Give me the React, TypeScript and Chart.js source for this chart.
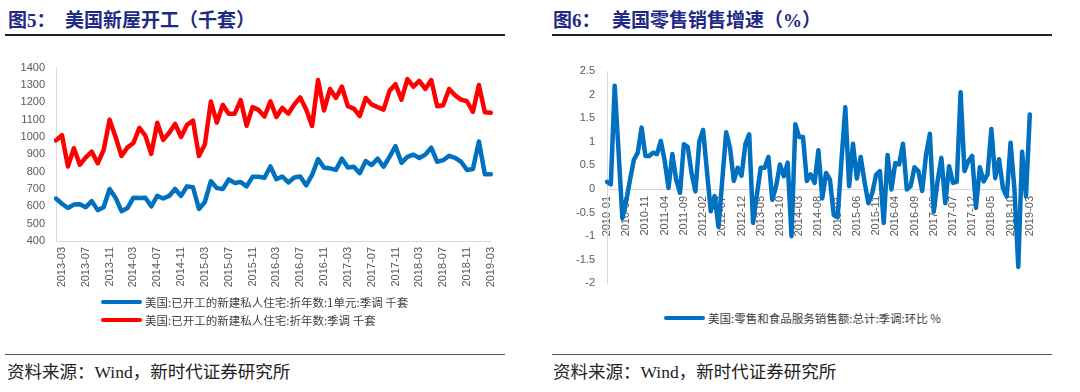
import React, { useEffect, useRef } from 'react';
import { Chart, registerables } from 'chart.js';

Chart.register(...registerables);

// ---------- Figure 5: US housing starts (thousand units) ----------
const startMonths = [
  '2013-02', '2013-03', '2013-04', '2013-05', '2013-06', '2013-07', '2013-08', '2013-09', '2013-10', '2013-11', '2013-12',
  '2014-01', '2014-02', '2014-03', '2014-04', '2014-05', '2014-06', '2014-07', '2014-08', '2014-09', '2014-10', '2014-11', '2014-12',
  '2015-01', '2015-02', '2015-03', '2015-04', '2015-05', '2015-06', '2015-07', '2015-08', '2015-09', '2015-10', '2015-11', '2015-12',
  '2016-01', '2016-02', '2016-03', '2016-04', '2016-05', '2016-06', '2016-07', '2016-08', '2016-09', '2016-10', '2016-11', '2016-12',
  '2017-01', '2017-02', '2017-03', '2017-04', '2017-05', '2017-06', '2017-07', '2017-08', '2017-09', '2017-10', '2017-11', '2017-12',
  '2018-01', '2018-02', '2018-03', '2018-04', '2018-05', '2018-06', '2018-07', '2018-08', '2018-09', '2018-10', '2018-11', '2018-12',
  '2019-01', '2019-02', '2019-03',
];

const startTickLabels = [
  '2013-03', '2013-07', '2013-11', '2014-03', '2014-07', '2014-11', '2015-03', '2015-07', '2015-11', '2016-03',
  '2016-07', '2016-11', '2017-03', '2017-07', '2017-11', '2018-03', '2018-07', '2018-11', '2019-03',
];

const singleFamilyStarts = [
  645, 615, 590, 610, 612, 595, 630, 578, 595, 700, 650,
  572, 590, 650, 648, 650, 600, 660, 645, 660, 700, 660, 715,
  710, 585, 625, 745, 705, 700, 755, 735, 740, 715, 770, 770,
  765, 830, 756, 772, 738, 766, 772, 721, 781, 872, 823, 819,
  810, 875, 824, 828, 791, 861, 838, 875, 828, 885, 947, 851,
  885, 898, 879, 898, 938, 857, 866, 891, 879, 857, 810, 815,
  974, 785, 785,
];

const totalStarts = [
  980, 1010, 830, 935, 840, 882, 915, 848, 925, 1100, 1000,
  890, 940, 965, 1052, 1008, 902, 1082, 983, 1024, 1075, 1000, 1070,
  1094, 890, 958, 1204, 1083, 1185, 1134, 1134, 1213, 1064, 1172, 1156,
  1118, 1205, 1115, 1168, 1134, 1187, 1228, 1158, 1064, 1328, 1153, 1277,
  1225, 1290, 1177, 1164, 1121, 1225, 1187, 1172, 1158, 1266, 1304, 1215,
  1334, 1290, 1323, 1277, 1328, 1177, 1183, 1277, 1240, 1215, 1206, 1145,
  1300, 1143, 1139,
];

const startLegend = [
  '美国:已开工的新建私人住宅:折年数:1单元:季调 千套',
  '美国:已开工的新建私人住宅:折年数:季调 千套',
];

// ---------- Figure 6: US retail sales growth (%) ----------
const retailMonths = [
  '2010-01', '2010-02', '2010-03', '2010-04', '2010-05', '2010-06', '2010-07', '2010-08', '2010-09', '2010-10', '2010-11', '2010-12',
  '2011-01', '2011-02', '2011-03', '2011-04', '2011-05', '2011-06', '2011-07', '2011-08', '2011-09', '2011-10', '2011-11', '2011-12',
  '2012-01', '2012-02', '2012-03', '2012-04', '2012-05', '2012-06', '2012-07', '2012-08', '2012-09', '2012-10', '2012-11', '2012-12',
  '2013-01', '2013-02', '2013-03', '2013-04', '2013-05', '2013-06', '2013-07', '2013-08', '2013-09', '2013-10', '2013-11', '2013-12',
  '2014-01', '2014-02', '2014-03', '2014-04', '2014-05', '2014-06', '2014-07', '2014-08', '2014-09', '2014-10', '2014-11', '2014-12',
  '2015-01', '2015-02', '2015-03', '2015-04', '2015-05', '2015-06', '2015-07', '2015-08', '2015-09', '2015-10', '2015-11', '2015-12',
  '2016-01', '2016-02', '2016-03', '2016-04', '2016-05', '2016-06', '2016-07', '2016-08', '2016-09', '2016-10', '2016-11', '2016-12',
  '2017-01', '2017-02', '2017-03', '2017-04', '2017-05', '2017-06', '2017-07', '2017-08', '2017-09', '2017-10', '2017-11', '2017-12',
  '2018-01', '2018-02', '2018-03', '2018-04', '2018-05', '2018-06', '2018-07', '2018-08', '2018-09', '2018-10', '2018-11', '2018-12',
  '2019-01', '2019-02', '2019-03',
];

const retailTickLabels = [
  '2010-01', '2010-06', '2010-11', '2011-04', '2011-09', '2012-02', '2012-07', '2012-12', '2013-05', '2013-10', '2014-03', '2014-08',
  '2015-01', '2015-06', '2015-11', '2016-04', '2016-09', '2017-02', '2017-07', '2017-12', '2018-05', '2018-10', '2019-03',
];

const retailMoM = [
  0.15, 0.1, 2.19, 0.8, -0.62, -0.25, 0.2, 0.62, 0.77, 1.3, 0.7, 0.7,
  0.77, 0.74, 1.02, 0.6, 0.02, 0.74, 0.2, -0.08, 0.95, 0.89, 0.34, -0.05,
  1.0, 1.25, 0.38, -0.47, -0.15, -0.8, 0.2, 1.2, 0.88, 0.17, 0.45, 0.28,
  0.95, 1.16, -0.72, -0.12, 0.45, 0.45, 0.68, -0.23, 0.06, 0.52, 0.27, 0.56,
  -1.0, 1.37, 1.1, 1.1, 0.17, 0.31, 0.13, 0.82, -0.2, 0.34, 0.2, -0.55,
  -0.6, 0.6, 1.73, 0.06, 0.96, 0.22, 0.68, 0.15, -0.3, -0.09, 0.3, 0.38,
  -0.72, 0.72, -0.01, 0.55, 0.52, 0.96, -0.01, 0.06, 0.46, 0.38, -0.04, 0.72,
  1.17, -0.48, 0.16, 0.66, -0.3, 0.48, 0.13, 0.15, 2.05, 0.38, 0.59, 0.7,
  -0.4, 0.46, 0.16, 0.31, 1.27, 0.23, 0.63, 0.02, -0.16, 0.98, 0.0, -1.65,
  0.79, -0.16, 1.58,
];

const retailLegend = '美国:零售和食品服务销售额:总计:季调:环比 %';

const BLUE = '#0070C0';
const RED = '#FF0000';
const TICK_COLOR = '#595959';
const AXIS_COLOR = '#D9D9D9';
const tickFont = { family: '"Liberation Sans", Arial, sans-serif', size: 11 };
const titleFamily = '"Liberation Serif", "Noto Sans CJK SC", serif';
const sansFamily = '"Noto Sans CJK SC", "Liberation Sans", sans-serif';

function StartsChart() {
  const ref = useRef<HTMLCanvasElement | null>(null);
  useEffect(() => {
    if (!ref.current) return;
    const chart = new Chart(ref.current, {
      type: 'line',
      data: {
        labels: startMonths,
        datasets: [
          {
            label: startLegend[0],
            data: singleFamilyStarts,
            borderColor: BLUE,
            backgroundColor: BLUE,
            borderWidth: 4.5,
            pointRadius: 0,
            tension: 0,
            borderJoinStyle: 'round',
            borderCapStyle: 'round',
          },
          {
            label: startLegend[1],
            data: totalStarts,
            borderColor: RED,
            backgroundColor: RED,
            borderWidth: 4.5,
            pointRadius: 0,
            tension: 0,
            borderJoinStyle: 'round',
            borderCapStyle: 'round',
          },
        ],
      },
      options: {
        animation: false,
        responsive: false,
        maintainAspectRatio: false,
        layout: { padding: { top: 14, right: 18, bottom: 0, left: 0 } },
        plugins: { legend: { display: false }, tooltip: { enabled: false } },
        scales: {
          x: {
            type: 'category',
            offset: false,
            grid: { display: false, drawTicks: false },
            border: { display: true, color: AXIS_COLOR, width: 1 },
            ticks: {
              autoSkip: false,
              minRotation: 90,
              maxRotation: 90,
              padding: 6,
              color: TICK_COLOR,
              font: tickFont,
              callback: (_v: any, i: number) =>
                startTickLabels.includes(startMonths[i]) ? startMonths[i] : '',
            },
            afterFit: (s: any) => {
              s.height = 59;
            },
          },
          y: {
            min: 400,
            max: 1400,
            grid: { display: false, drawTicks: false },
            border: { display: true, color: AXIS_COLOR, width: 1 },
            ticks: {
              stepSize: 100,
              padding: 11,
              color: TICK_COLOR,
              font: tickFont,
              callback: (v: any) => String(v),
            },
            afterFit: (s: any) => {
              s.width = 56;
            },
          },
        },
      },
    });
    return () => chart.destroy();
  }, []);
  return (
    <canvas
      ref={ref}
      width={510}
      height={250}
      style={{ position: 'absolute', left: 0, top: 50, width: 510, height: 250 }}
    />
  );
}

function RetailChart() {
  const ref = useRef<HTMLCanvasElement | null>(null);
  useEffect(() => {
    if (!ref.current) return;
    const chart = new Chart(ref.current, {
      type: 'line',
      data: {
        labels: retailMonths,
        datasets: [
          {
            label: retailLegend,
            data: retailMoM,
            borderColor: BLUE,
            backgroundColor: BLUE,
            borderWidth: 4.5,
            pointRadius: 0,
            tension: 0,
            borderJoinStyle: 'round',
            borderCapStyle: 'round',
          },
        ],
      },
      options: {
        animation: false,
        responsive: false,
        maintainAspectRatio: false,
        layout: { padding: { top: 21, right: 16, bottom: 12, left: 0 } },
        plugins: { legend: { display: false }, tooltip: { enabled: false } },
        scales: {
          x: {
            type: 'category',
            position: { y: 0 },
            offset: false,
            grid: { display: false, drawTicks: false },
            border: { display: true, color: AXIS_COLOR, width: 1 },
            ticks: {
              autoSkip: false,
              minRotation: 90,
              maxRotation: 90,
              padding: 7,
              color: TICK_COLOR,
              font: tickFont,
              callback: (_v: any, i: number) =>
                retailTickLabels.includes(retailMonths[i]) ? retailMonths[i] : '',
            },
          },
          y: {
            min: -2,
            max: 2.5,
            grid: { display: false, drawTicks: false },
            border: { display: true, color: AXIS_COLOR, width: 1 },
            ticks: {
              stepSize: 0.5,
              padding: 12,
              color: TICK_COLOR,
              font: tickFont,
              callback: (v: any) => String(Math.round(Number(v) * 10) / 10),
            },
            afterFit: (s: any) => {
              s.width = 57;
            },
          },
        },
      },
    });
    return () => chart.destroy();
  }, []);
  return (
    <canvas
      ref={ref}
      width={500}
      height={252}
      style={{ position: 'absolute', left: 550, top: 50, width: 500, height: 252 }}
    />
  );
}

function LegendRow(props: { left: number; centerY: number; color: string; text: string }) {
  return (
    <div
      style={{
        position: 'absolute',
        left: props.left,
        top: props.centerY - 9,
        height: 18,
        display: 'flex',
        alignItems: 'center',
        whiteSpace: 'nowrap',
      }}
    >
      <span
        style={{
          display: 'inline-block',
          width: 41,
          height: 4,
          borderRadius: 2,
          background: props.color,
        }}
      />
      <span
        style={{
          marginLeft: 3,
          fontFamily: sansFamily,
          fontSize: 11.5,
          color: '#404040',
          lineHeight: '18px',
        }}
      >
        {props.text}
      </span>
    </div>
  );
}

function Title(props: { left: number; prefix: string; text: string; gap: number }) {
  return (
    <div
      style={{
        position: 'absolute',
        left: props.left,
        top: 10,
        height: 22,
        fontFamily: titleFamily,
        fontWeight: 700,
        fontSize: 19,
        lineHeight: '22px',
        color: '#1F2A84',
        whiteSpace: 'nowrap',
      }}
    >
      <span>{props.prefix}</span>
      <span style={{ position: 'absolute', left: props.gap, top: 0 }}>{props.text}</span>
    </div>
  );
}

function Source(props: { left: number }) {
  return (
    <div
      style={{
        position: 'absolute',
        left: props.left,
        top: 361,
        fontFamily: titleFamily,
        fontSize: 17.5,
        lineHeight: '22px',
        color: '#222',
        whiteSpace: 'nowrap',
      }}
    >
      资料来源：Wind，新时代证券研究所
    </div>
  );
}

function Rule(props: { left: number; top: number; width: number; height: number; color: string }) {
  return (
    <div
      style={{
        position: 'absolute',
        left: props.left,
        top: props.top,
        width: props.width,
        height: props.height,
        background: props.color,
      }}
    />
  );
}

export default function App() {
  return (
    <div
      style={{
        position: 'fixed',
        left: 0,
        top: 0,
        width: 1080,
        height: 392,
        background: '#fff',
        overflow: 'hidden',
      }}
    >
      <Title left={8} prefix="图5：" text="美国新屋开工（千套）" gap={57} />
      <Rule left={5} top={34} width={500} height={2} color="#222" />
      <StartsChart />
      <LegendRow left={101} centerY={302} color={BLUE} text={startLegend[0]} />
      <LegendRow left={101} centerY={320} color={RED} text={startLegend[1]} />
      <Rule left={5} top={354} width={500} height={1} color="#555" />
      <Source left={7} />

      <Title left={553} prefix="图6：" text="美国零售销售增速（%）" gap={59} />
      <Rule left={552} top={34} width={500} height={2} color="#222" />
      <RetailChart />
      <LegendRow left={664} centerY={318} color={BLUE} text={retailLegend} />
      <Rule left={552} top={354} width={500} height={1} color="#555" />
      <Source left={553} />
    </div>
  );
}
